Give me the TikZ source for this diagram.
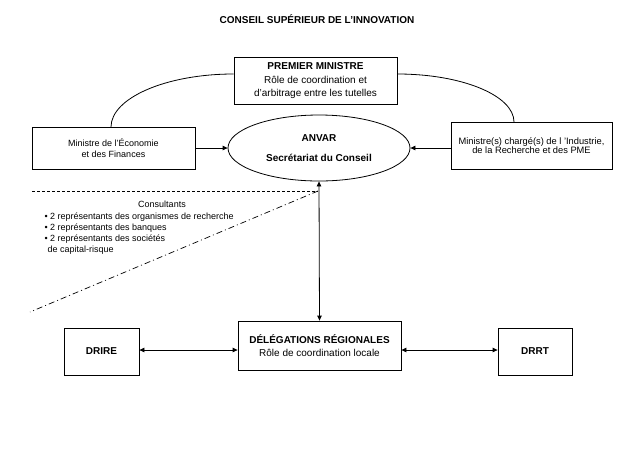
\documentclass[tikz,border=0pt]{standalone}
\usepackage{fontspec}
\setmainfont{Liberation Sans}
\usetikzlibrary{arrows.meta,shapes.geometric}
\begin{document}
\begin{tikzpicture}[x=1pt,y=-1pt,
  box/.style={draw,line width=0.8pt,rectangle,inner sep=0pt,align=center},
  small/.style={font=\fontsize{9}{11}\selectfont},
  normal/.style={font=\fontsize{10}{13}\selectfont},
  conn/.style={line width=0.8pt},
  arr/.style={conn,-{Triangle[length=5pt,width=4.5pt]}},
  darr/.style={conn,{Triangle[length=5pt,width=4.5pt]}-{Triangle[length=5pt,width=4.5pt]}},
]
\useasboundingbox (0,0) rectangle (634,475);

\node[font=\fontsize{10}{12}\selectfont\bfseries] (title) at (317,19) {CONSEIL SUPÉRIEUR DE L'INNOVATION};

\node[box,normal,minimum width=163pt,minimum height=47pt] (pm) at (315.5,80.5)
  {\textbf{PREMIER MINISTRE}\\[1pt]Rôle de coordination et\\d'arbitrage entre les tutelles};

\node[box,small,minimum width=163pt,minimum height=42pt] (eco) at (113.5,148)
  {Ministre de l'Économie\\et des Finances};

\node[draw,line width=0.8pt,ellipse,minimum width=182pt,minimum height=66pt,inner sep=0pt,
  align=center,font=\fontsize{10}{20}\selectfont\bfseries] (anvar) at (319,148)
  {ANVAR\\Secrétariat du Conseil};

\node[box,font=\fontsize{9.3}{8.5}\selectfont,minimum width=161pt,minimum height=47pt] (ind) at (531.5,145.5)
  {Ministre(s) chargé(s) de l 'Industrie,\\de la Recherche et des PME};

\node[box,normal,minimum width=163pt,minimum height=49pt] (del) at (319.5,345.5)
  {\textbf{DÉLÉGATIONS RÉGIONALES}\\Rôle de coordination locale};

\node[box,font=\fontsize{10}{12}\selectfont\bfseries,minimum width=75pt,minimum height=47pt] (drire) at (101.5,351.5) {DRIRE};
\node[box,font=\fontsize{10}{12}\selectfont\bfseries,minimum width=74pt,minimum height=47pt] (drrt) at (535,351.5) {DRRT};

% curves
\coordinate (pmL) at (pm.west |- 0,74);
\coordinate (pmR) at (pm.east |- 0,74);
\coordinate (ecoT) at (111,127);
\coordinate (indT) at (514,122);
\draw[conn] (pmL) .. controls (166,74) and (111,98) .. (ecoT);
\draw[conn] (pmR) .. controls (462,74) and (514,95.5) .. (indT);

% arrows to ANVAR
\draw[arr] (eco.east) -- (anvar.west);
\draw[arr] (ind.west |- anvar.east) -- (anvar.east);

% vertical double arrow
\draw[darr] (anvar.south) -- (del.north);

% horizontal double arrows
\draw[darr] (drire.east |- 0,350) -- (del.west |- 0,350);
\draw[darr] (del.east |- 0,350) -- (drrt.west |- 0,350);

% consultants region
\coordinate (dtop) at (318,191);
\coordinate (dleft) at (32,191);
\coordinate (dbot) at (30,312);
\draw[line width=0.7pt,dash pattern=on 3pt off 2pt] (dleft) -- (dtop);
\draw[line width=0.7pt,dash pattern=on 6pt off 3pt on 1pt off 3pt] (dtop) -- (dbot);

\node[small] (cons) at (162,204) {Consultants};
\node[small,anchor=west] (c1) at (41,217) {\textbullet\ 2 représentants des organismes de recherche};
\node[small,anchor=west] (c2) at (41,228) {\textbullet\ 2 représentants des banques};
\node[small,anchor=west] (c3) at (41,239) {\textbullet\ 2 représentants des sociétés};
\node[small,anchor=west] (c4) at (44,250) {de capital-risque};
\end{tikzpicture}
\end{document}
